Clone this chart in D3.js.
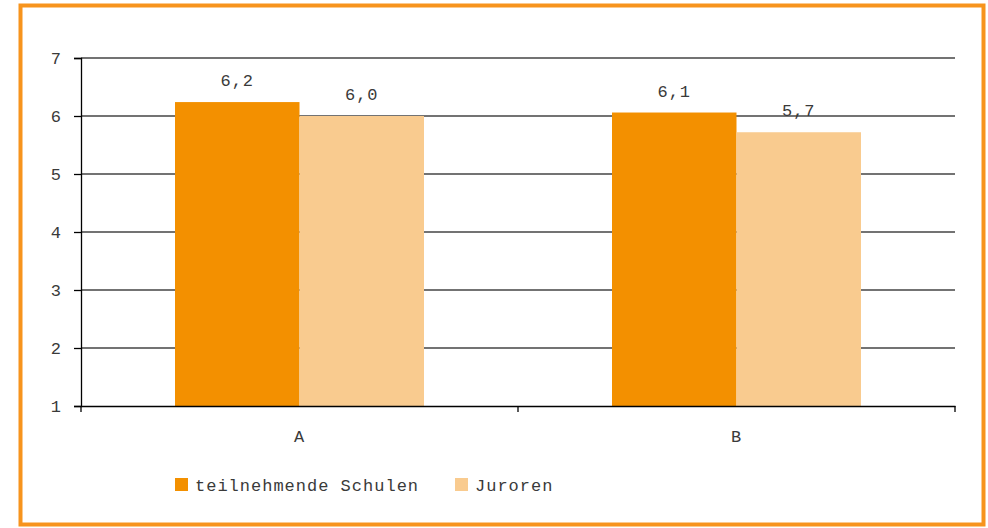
<!DOCTYPE html>
<html>
<head>
<meta charset="utf-8">
<script src="https://cdn.jsdelivr.net/npm/d3@7"></script>
<style>
  body { margin: 0; background: #fff; }
  text { font-family: "Liberation Mono", "DejaVu Sans Mono", monospace; fill: #3a3a3a; letter-spacing: 1px; }
</style>
</head>
<body>
<div id="chart"></div>
<script>
const categories = ["A", "B"];
const seriesNames = ["teilnehmende Schulen", "Juroren"];
const schulen = [6.24, 6.06];
const juroren = [6.0, 5.72];
const labels = [["6,2", "6,0"], ["6,1", "5,7"]];
const yTicks = [1, 2, 3, 4, 5, 6, 7];

const colors = ["#f39000", "#f9cb8f"];
const W = 988, H = 528;
const m = { top: 58, left: 81, right: 33, bottom: 122 };
const width = W - m.left - m.right;
const height = H - m.top - m.bottom;

const svg = d3.select("#chart").append("svg")
  .attr("width", W).attr("height", H);

// orange frame
svg.append("rect")
  .attr("x", 20.5).attr("y", 5.5)
  .attr("width", 963).attr("height", 519)
  .attr("fill", "none").attr("stroke", "#f7941d").attr("stroke-width", 4);

const g = svg.append("g").attr("transform", `translate(${m.left},${m.top})`);

const x0 = d3.scaleBand().domain(categories).range([0, width]).paddingInner(0).paddingOuter(0);
const x1 = d3.scaleBand().domain(seriesNames).range([94, x0.bandwidth() - 94]);
const y = d3.scaleLinear().domain([1, 7]).range([height, 0]);

// gridlines
g.append("g").selectAll("line").data(yTicks.slice(1)).join("line")
  .attr("x1", 0).attr("x2", width)
  .attr("y1", d => y(d)).attr("y2", d => y(d))
  .attr("stroke", "#444").attr("stroke-width", 1.3);

const data = categories.map((c, i) => ({
  cat: c,
  vals: [
    { s: seriesNames[0], v: schulen[i], label: labels[i][0] },
    { s: seriesNames[1], v: juroren[i], label: labels[i][1] }
  ]
}));

const groups = g.append("g").selectAll("g").data(data).join("g")
  .attr("transform", d => `translate(${x0(d.cat)},0)`);

groups.selectAll("rect").data(d => d.vals).join("rect")
  .attr("x", d => x1(d.s))
  .attr("y", d => y(d.v))
  .attr("width", x1.bandwidth())
  .attr("height", d => height - y(d.v))
  .attr("fill", (d, i) => colors[i]);

groups.selectAll("text.val").data(d => d.vals).join("text")
  .attr("class", "val")
  .attr("x", d => x1(d.s) + x1.bandwidth() / 2)
  .attr("y", d => y(d.v) - 16)
  .attr("text-anchor", "middle")
  .attr("font-size", 17)
  .text(d => d.label);

// y axis
const yAxis = g.append("g")
  .call(d3.axisLeft(y).tickValues(yTicks).tickSize(7).tickPadding(12).tickFormat(d3.format("d")));
yAxis.selectAll("text").attr("font-size", 17).style("font-family", "Liberation Mono, monospace").attr("fill", "#3a3a3a");
yAxis.selectAll("line, path").attr("stroke", "#000").attr("stroke-width", 1.3);

// x axis
const xAxis = g.append("g").attr("transform", `translate(0,${height})`)
  .call(d3.axisBottom(x0).tickSize(0).tickPadding(24));
xAxis.select(".domain").attr("stroke", "#000").attr("stroke-width", 1.3);
xAxis.selectAll("text").attr("font-size", 17).style("font-family", "Liberation Mono, monospace").attr("fill", "#3a3a3a");
const xTickPos = [0, x0.bandwidth(), width];
g.append("g").selectAll("line").data(xTickPos).join("line")
  .attr("x1", d => d).attr("x2", d => d)
  .attr("y1", height).attr("y2", height + 6)
  .attr("stroke", "#000").attr("stroke-width", 1.3);

// legend
const legendX = [175, 455];
const legend = svg.append("g").selectAll("g").data(seriesNames).join("g")
  .attr("transform", (d, i) => `translate(${legendX[i]},478)`);
legend.append("rect").attr("width", 13).attr("height", 13).attr("fill", (d, i) => colors[i]);
legend.append("text").attr("x", 20).attr("y", 13).attr("font-size", 17).text(d => d);
</script>
</body>
</html>
